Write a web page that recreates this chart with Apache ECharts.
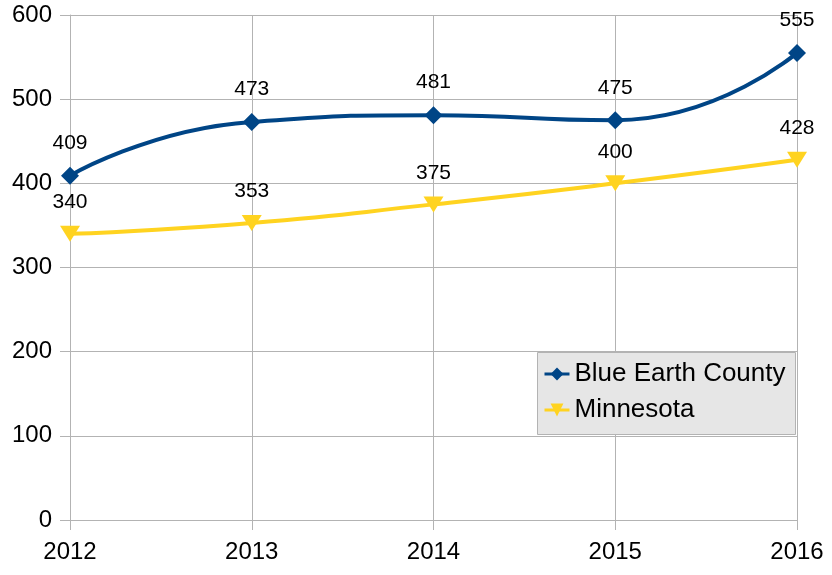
<!DOCTYPE html>
<html><head><meta charset="utf-8">
<script src="https://cdn.jsdelivr.net/npm/echarts@6/dist/echarts.min.js"></script>
<style>html,body{margin:0;padding:0;background:#fff}#c{width:832px;height:575px}</style>
</head><body><div id="c"></div>
<script>
var years = ['2012','2013','2014','2015','2016'];
var blueEarth = [409, 473, 481, 475, 555];
var minnesota = [340, 353, 375, 400, 428];
var yTicks = [0, 100, 200, 300, 400, 500, 600];

var chart = echarts.init(document.getElementById('c'));
var font = 'Liberation Sans, Arial, sans-serif';
chart.setOption({
  animation: false,
  grid: {left: 70, right: 35, top: 15, bottom: 55},
  xAxis: {
    type: 'category', data: years, boundaryGap: false,
    axisLine: {show: true, lineStyle: {color: '#b3b3b3', width: 1}},
    axisTick: {show: true, length: 10, lineStyle: {color: '#b3b3b3'}},
    splitLine: {show: true, lineStyle: {color: '#b3b3b3', width: 1}},
    axisLabel: {color: '#000', fontSize: 24, fontFamily: font, margin: 20}
  },
  yAxis: {
    type: 'value', min: yTicks[0], max: yTicks[yTicks.length-1], interval: 100,
    axisLine: {show: true, lineStyle: {color: '#b3b3b3'}},
    axisTick: {show: true, length: 10, lineStyle: {color: '#b3b3b3'}},
    splitLine: {show: true, lineStyle: {color: '#b3b3b3', width: 1}},
    axisLabel: {color: '#000', fontSize: 24, fontFamily: font, margin: 18}
  },
  graphic: [{
    type: 'rect', z: 3, shape: {x: 537.5, y: 352.5, width: 258, height: 82},
    style: {fill: '#e6e6e6', stroke: '#b3b3b3', lineWidth: 1}
  }],
  legend: {
    orient: 'vertical', left: 543, top: 361, z: 4,
    padding: 0, itemGap: 10, itemWidth: 25, itemHeight: 16,
    lineStyle: {width: 3},
    textStyle: {color: '#000', fontSize: 26, lineHeight: 26, fontFamily: font},
    data: ['Blue Earth County', 'Minnesota']
  },
  series: [
    {
      name: 'Blue Earth County', type: 'line', data: blueEarth, smooth: 0.55,
      symbol: 'diamond', symbolSize: 18,
      lineStyle: {color: '#004586', width: 4},
      itemStyle: {color: '#004586'},
      label: {show: true, position: 'top', distance: 13, color: '#000', fontSize: 21, fontFamily: font}
    },
    {
      name: 'Minnesota', type: 'line', data: minnesota, smooth: 0.55,
      symbol: 'triangle', symbolRotate: 180, symbolSize: [20, 16],
      lineStyle: {color: '#ffd320', width: 4},
      itemStyle: {color: '#ffd320'},
      label: {show: true, position: 'top', distance: 13, color: '#000', fontSize: 21, fontFamily: font}
    }
  ]
});
</script></body></html>
